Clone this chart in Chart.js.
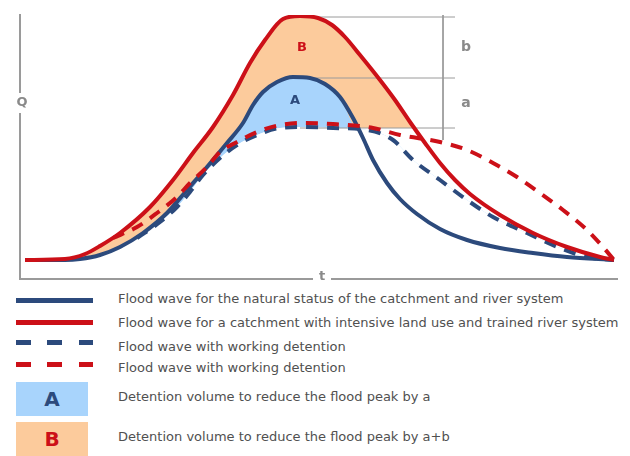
<!DOCTYPE html>
<html>
<head>
<meta charset="utf-8">
<script src="https://cdn.jsdelivr.net/npm/chart.js@4.4.1/dist/chart.umd.min.js"></script>
<style>
  body { margin: 0; background: #fff; }
  #wrap { position: relative; width: 630px; height: 456px; overflow: hidden; font-family: "DejaVu Sans", Verdana, sans-serif; }
  #chart { position: absolute; left: 0; top: 0; }
  .sw { position: absolute; left: 16px; width: 77px; height: 5px; }
  .txt { position: absolute; left: 118px; font-size: 13px; color: #505050; white-space: nowrap; transform: translateY(-50%); }
  .box { position: absolute; left: 16px; width: 72px; height: 34px; font-weight: bold; font-size: 20px; text-align: center; line-height: 34px; }
</style>
</head>
<body>
<div id="wrap">
  <canvas id="chart" width="630" height="290"></canvas>

  <div class="sw" style="top:298px;background:#2c4a7c"></div>
  <div class="txt" style="top:298px">Flood wave for the natural status of the catchment and river system</div>

  <div class="sw" style="top:320px;background:#cc1018"></div>
  <div class="txt" style="top:322px">Flood wave for a catchment with intensive land use and trained river system</div>

  <div class="sw" style="top:340px;background:repeating-linear-gradient(to right,#2c4a7c 0 15px,transparent 15px 31.5px)"></div>
  <div class="txt" style="top:346px">Flood wave with working detention</div>

  <div class="sw" style="top:362px;background:repeating-linear-gradient(to right,#cc1018 0 15px,transparent 15px 31.5px)"></div>
  <div class="txt" style="top:367px">Flood wave with working detention</div>

  <div class="box" style="top:382px;background:#a8d4fc;color:#2c4a7c">A</div>
  <div class="txt" style="top:396px">Detention volume to reduce the flood peak by a</div>

  <div class="box" style="top:422px;background:#fccb9c;color:#cc1018">B</div>
  <div class="txt" style="top:436px">Detention volume to reduce the flood peak by a+b</div>
</div>

<script>
// hydrographs: t = time, Q = discharge
const naturalT = [25, 65, 80, 100, 120, 143, 167, 187, 207, 227, 243, 253, 263, 277, 293, 310, 325, 340, 353, 363, 373, 387, 400, 417, 440, 467, 500, 533, 567, 614];
const naturalQ = [0, 0, 1, 5, 13, 27, 47, 70, 93, 117, 137, 155, 168, 178, 183, 182, 176, 163, 142, 122, 100, 77, 61, 46, 31, 20, 12, 7, 3, 0];

const intensiveT = [25, 65, 85, 100, 120, 150, 173, 193, 213, 233, 250, 265, 283, 300, 318, 332, 345, 360, 380, 395, 410, 425, 440, 455, 470, 500, 533, 567, 600, 614];
const intensiveQ = [0, 1, 6, 14, 27, 53, 80, 107, 133, 165, 197, 220, 241, 244, 242, 235, 223, 205, 180, 160, 138, 117, 97, 80, 66, 45, 27, 13, 3, 0];

const detentionBlueT = [137, 160, 177, 190, 203, 220, 237, 257, 280, 303, 333, 367, 393, 413, 440, 467, 493, 527, 560, 587, 614];
const detentionBlueQ = [22, 38, 53, 68, 85, 102, 115, 125, 132, 133, 132, 130, 120, 100, 80, 60, 43, 27, 12, 3, 0];

const detentionRedT = [113, 137, 157, 177, 190, 207, 220, 237, 257, 280, 303, 333, 373, 400, 440, 467, 493, 517, 540, 563, 587, 603, 614];
const detentionRedQ = [22, 33, 47, 63, 77, 93, 108, 118, 128, 135, 137, 136, 132, 125, 118, 110, 97, 83, 67, 50, 30, 13, 0];

// peak levels (b / a markers)
const peakIntensive = 243;
const peakNatural = 182;
const detentionLevel = 132;
const levelStartT = [290, 298, 300];
const levelEndT = 455;
const markerT = 443;
const markerQ = [253, 120];
// where natural wave and intensive wave cross the detention level
const crossT = [357, 418];

const navy = '#2c4a7c';
const red = '#cc1018';
const grey = '#9a9a9a';

function pts(t, q) {
    return t.map(function (x, i) { return { x: x, y: q[i] }; });
}

// lower edge of area B: natural wave up to the detention level, then the level itself
const edgeB = pts(naturalT, naturalQ).filter(function (p) { return p.x <= 340; })
    .concat([{ x: crossT[0], y: detentionLevel }, { x: crossT[1], y: detentionLevel }]);

const datasets = [
    { data: pts(intensiveT, intensiveQ), borderColor: red, borderWidth: 4, order: 1,
      fill: { target: 5, above: '#fccb9c', below: 'transparent' } },
    { data: pts(detentionRedT, detentionRedQ), borderColor: red, borderWidth: 4, borderDash: [12, 9], order: 2, fill: false },
    { data: pts(naturalT, naturalQ), borderColor: navy, borderWidth: 4, order: 3,
      fill: { target: 3, above: '#a8d4fc', below: 'transparent' } },
    { data: pts(detentionBlueT, detentionBlueQ), borderColor: navy, borderWidth: 4, borderDash: [12, 9], order: 4, fill: false },
    { data: [{ x: levelStartT[0], y: peakIntensive }, { x: levelEndT, y: peakIntensive }], borderColor: grey, borderWidth: 1, order: 9, fill: false, cubicInterpolationMode: 'default', tension: 0 },
    { data: edgeB, borderColor: 'transparent', borderWidth: 0, order: 20, fill: false },
    { data: [{ x: levelStartT[1], y: peakNatural }, { x: levelEndT, y: peakNatural }], borderColor: grey, borderWidth: 1, order: 9, fill: false, cubicInterpolationMode: 'default', tension: 0 },
    { data: [{ x: levelStartT[2], y: detentionLevel }, { x: levelEndT, y: detentionLevel }], borderColor: grey, borderWidth: 1, order: 9, fill: false, cubicInterpolationMode: 'default', tension: 0 },
    { data: [{ x: markerT, y: markerQ[0] }, { x: markerT, y: markerQ[1] }], borderColor: grey, borderWidth: 1, order: 9, fill: false, cubicInterpolationMode: 'default', tension: 0 }
];

const labelPlugin = {
    id: 'labels',
    afterDraw: function (chart) {
        const ctx = chart.ctx;
        const xs = chart.scales.x;
        const ys = chart.scales.y;
        const area = chart.chartArea;
        ctx.save();
        ctx.textAlign = 'center';
        ctx.textBaseline = 'middle';

        // axis names sitting on the axis lines
        const qy = ys.getPixelForValue(157);
        ctx.fillStyle = '#fff';
        ctx.fillRect(area.left - 6, qy - 10, 12, 20);
        ctx.fillStyle = '#8a8a8a';
        ctx.font = 'bold 13px "DejaVu Sans"';
        ctx.fillText('Q', area.left + 2, qy);

        const tx = xs.getPixelForValue(322);
        ctx.fillStyle = '#fff';
        ctx.fillRect(tx - 9, area.bottom - 6, 18, 12);
        ctx.fillStyle = '#8a8a8a';
        ctx.fillText('t', tx, area.bottom - 2);

        // a / b next to the marker
        ctx.font = 'bold 14px "DejaVu Sans"';
        ctx.fillText('b', xs.getPixelForValue(466), ys.getPixelForValue((peakIntensive + peakNatural) / 2));
        ctx.fillText('a', xs.getPixelForValue(466), ys.getPixelForValue((peakNatural + detentionLevel) / 2));

        // area names
        ctx.font = 'bold 13px "DejaVu Sans"';
        ctx.fillStyle = red;
        ctx.fillText('B', xs.getPixelForValue(302), ys.getPixelForValue((peakIntensive + peakNatural) / 2));
        ctx.fillStyle = navy;
        ctx.fillText('A', xs.getPixelForValue(295), ys.getPixelForValue((peakNatural + detentionLevel) / 2 + 2));
        ctx.restore();
    }
};

const axisOpts = function (min, max) {
    return {
        type: 'linear', min: min, max: max,
        grid: { display: false, drawTicks: false },
        ticks: { display: false },
        border: { display: true, color: '#9a9a9a', width: 2 }
    };
};

new Chart(document.getElementById('chart').getContext('2d'), {
    type: 'line',
    data: { datasets: datasets },
    options: {
        responsive: false,
        animation: false,
        devicePixelRatio: 1,
        layout: { padding: { left: 20, right: 13, top: 15, bottom: 11 } },
        elements: {
            point: { radius: 0 },
            line: { cubicInterpolationMode: 'monotone' }
        },
        plugins: {
            legend: { display: false },
            tooltip: { enabled: false },
            filler: { drawTime: 'beforeDatasetsDraw' }
        },
        scales: { x: axisOpts(20, 617), y: axisOpts(-19, 245) }
    },
    plugins: [labelPlugin]
});
</script>
</body>
</html>
